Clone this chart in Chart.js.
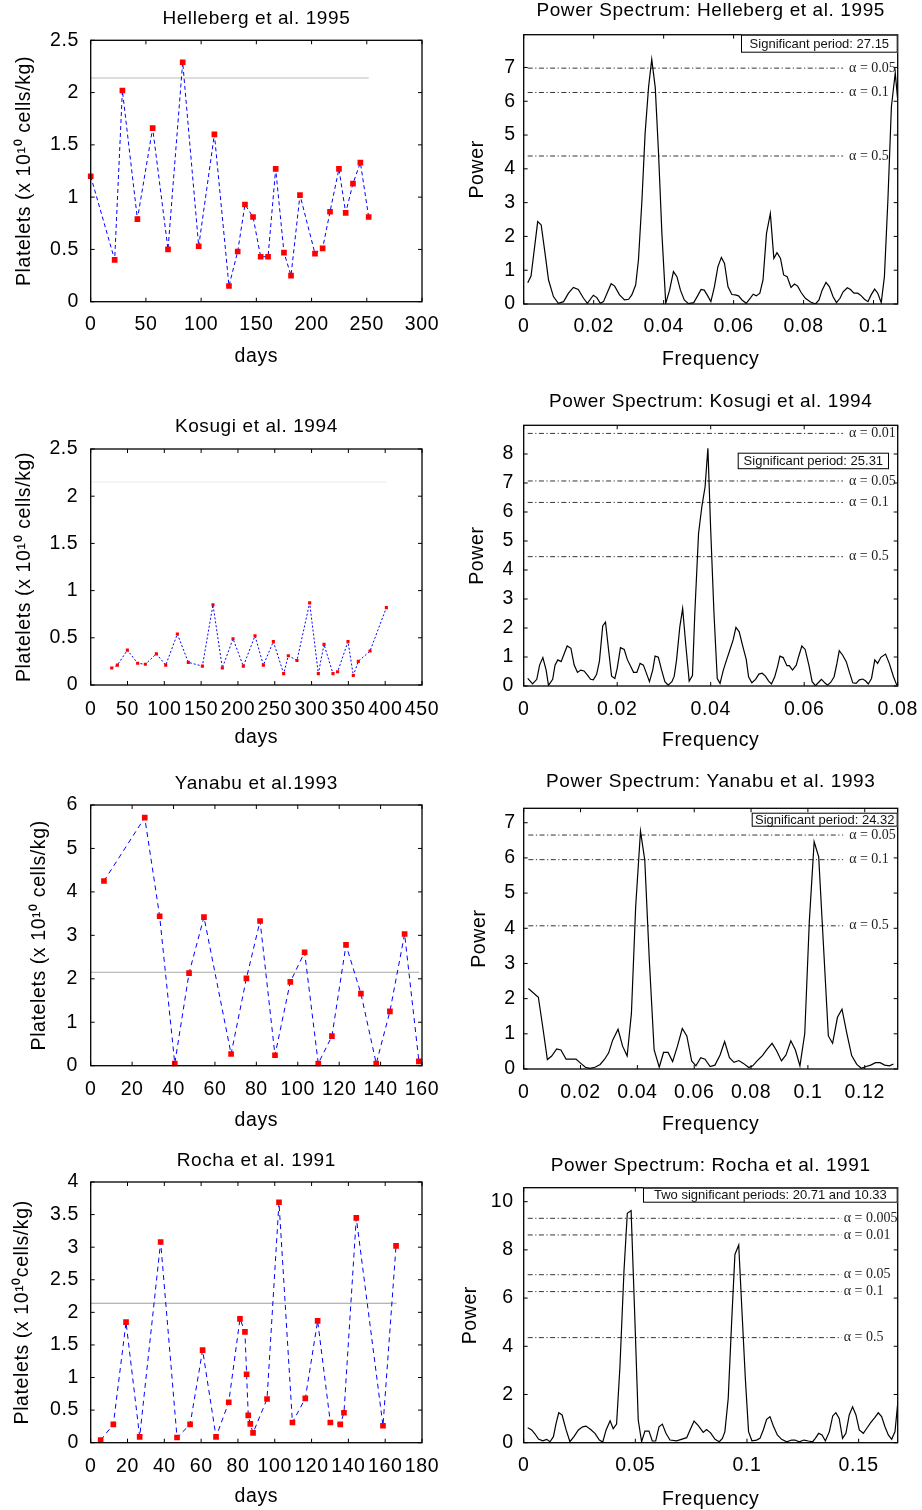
<!DOCTYPE html>
<html><head><meta charset="utf-8">
<script src="https://cdn.jsdelivr.net/npm/chart.js@4.4.1/dist/chart.umd.min.js"></script>
<style>
html,body{margin:0;padding:0;background:#fff;width:922px;height:1510px;overflow:hidden}
canvas{position:absolute}
</style></head>
<body>
<script>
// ---------------- DATA ----------------
// Helleberg et al. 1995
const helleDays = [0,21.7,28.7,42.3,56.1,70,83.3,97.8,112,125.2,133.1,139.7,147,153.9,160.6,167.5,175,181.4,189.5,203.1,210,216.7,224.8,230.9,237.5,244.2,251.7];
const helleVals = [1.20,0.40,2.02,0.79,1.66,0.50,2.29,0.53,1.60,0.15,0.48,0.93,0.81,0.43,0.43,1.27,0.47,0.25,1.02,0.46,0.51,0.86,1.27,0.85,1.13,1.33,0.81];
const helleRefDays = [0,251.7];
const helleRefVals = [2.14,2.14];
const helleFreq = [0.00115,0.0021,0.004,0.005,0.0061,0.0071,0.0085,0.0099,0.0114,0.0128,0.0142,0.0156,0.0171,0.0182,0.0199,0.0209,0.0219,0.0228,0.024,0.025,0.026,0.0274,0.0288,0.03,0.0309,0.032,0.0328,0.0338,0.0347,0.0357,0.0366,0.0376,0.0385,0.0395,0.0406,0.0417,0.0428,0.0438,0.0448,0.0459,0.0471,0.0486,0.0497,0.0507,0.0516,0.0526,0.0535,0.0545,0.0555,0.0565,0.0574,0.0584,0.0595,0.0605,0.0614,0.0624,0.0636,0.0645,0.0656,0.0665,0.0675,0.0684,0.0694,0.0705,0.0715,0.0724,0.0734,0.0743,0.0753,0.0764,0.0774,0.0783,0.0793,0.0805,0.082,0.0834,0.0844,0.0853,0.0864,0.0874,0.0884,0.0894,0.0904,0.0913,0.0925,0.0934,0.0944,0.0955,0.0965,0.0974,0.0984,0.0993,0.1003,0.1012,0.1022,0.1031,0.1041,0.1051,0.1062,0.1069];
const hellePower = [0.63,0.83,2.44,2.34,1.5,0.71,0.22,0.02,0.07,0.32,0.49,0.43,0.17,0.02,0.26,0.19,0.02,0.07,0.36,0.60,0.53,0.27,0.12,0.14,0.27,0.56,1.30,3.08,5.05,6.43,7.24,6.41,4.56,2.09,0.02,0.41,0.96,0.81,0.41,0.12,0.01,0.04,0.24,0.43,0.41,0.24,0.07,0.51,1.10,1.38,1.20,0.51,0.28,0.27,0.24,0.12,0.02,0.14,0.29,0.24,0.32,0.71,2.09,2.68,1.35,1.52,1.35,0.86,0.81,0.49,0.59,0.53,0.34,0.17,0.06,0.0,0.12,0.41,0.64,0.51,0.22,0.04,0.17,0.36,0.48,0.43,0.32,0.32,0.24,0.14,0.07,0.27,0.44,0.32,0.04,0.81,3.08,5.84,6.84,6.04];
const helleAlphaLabels = ['0.05','0.1','0.5'];
const helleAlphaLevels = [6.98,6.26,4.38];

// Kosugi et al. 1994
const kosugiDays = [28.5,36.2,49.8,63.8,74.2,89.2,101.9,117.7,132.6,151.7,166.1,178.8,193.3,207.3,223.2,234.5,248.1,262.1,268.4,280.2,297.4,309.2,316.9,329.1,335.4,349.5,356.7,363.5,379.4,401.6];
const kosugiVals = [0.18,0.21,0.37,0.23,0.22,0.33,0.21,0.54,0.24,0.20,0.85,0.18,0.49,0.20,0.52,0.21,0.46,0.12,0.31,0.26,0.87,0.12,0.43,0.12,0.14,0.46,0.10,0.25,0.36,0.82];
const kosugiRefDays = [0,402];
const kosugiRefVals = [2.15,2.15];
const kosugiFreq = [0.00086,0.0019,0.0028,0.0034,0.0041,0.0048,0.0053,0.0062,0.0067,0.0073,0.008,0.0087,0.0093,0.0101,0.0108,0.0115,0.0122,0.0129,0.0136,0.0143,0.0149,0.0156,0.0162,0.0169,0.0175,0.0182,0.0188,0.0195,0.02,0.0207,0.0215,0.0222,0.0229,0.0235,0.0242,0.0249,0.0256,0.0262,0.0269,0.0276,0.0281,0.0288,0.0295,0.0302,0.0309,0.0317,0.0322,0.0327,0.0334,0.034,0.0347,0.0354,0.0361,0.0366,0.0374,0.0381,0.0388,0.0394,0.04,0.0407,0.0414,0.042,0.0427,0.0434,0.0441,0.0448,0.0454,0.0461,0.0468,0.0476,0.0481,0.0488,0.0496,0.0503,0.051,0.0517,0.0524,0.053,0.0537,0.0543,0.0548,0.0555,0.0563,0.0568,0.0575,0.0583,0.0588,0.0595,0.0602,0.061,0.0617,0.0624,0.0631,0.0637,0.0644,0.065,0.0657,0.0664,0.067,0.0675,0.0682,0.069,0.0697,0.0704,0.0711,0.0718,0.0725,0.0731,0.0737,0.0744,0.0751,0.0757,0.0764,0.0774,0.0782,0.0791,0.0798];
const kosugiPower = [0.26,0.07,0.23,0.72,0.98,0.55,0.02,0.23,0.72,0.90,0.84,1.13,1.38,1.30,0.72,0.47,0.55,0.52,0.38,0.23,0.21,0.40,0.86,2.07,2.20,1.18,0.34,0.26,0.61,1.32,1.26,0.90,0.67,0.47,0.47,0.78,0.72,0.46,0.15,0.55,1.03,0.99,0.55,0.15,0.03,0.15,0.34,0.90,2.05,2.67,1.36,0.17,0.36,2.51,5.26,6.18,6.87,8.20,5.38,2.51,0.26,0.09,0.55,0.90,1.24,1.59,2.02,1.87,1.41,0.92,0.32,0.11,0.23,0.41,0.44,0.34,0.17,0.07,0.32,0.67,1.03,0.98,0.70,0.70,0.55,0.72,1.01,1.38,1.26,0.72,0.15,0.01,0.13,0.23,0.11,0.03,0.13,0.32,0.78,1.22,1.07,0.84,0.46,0.11,0.09,0.21,0.24,0.18,0.07,0.26,0.90,0.78,0.99,1.10,0.78,0.32,0.03];
const kosugiAlphaLabels = ['0.01','0.05','0.1','0.5'];
const kosugiAlphaLevels = [8.71,7.07,6.33,4.46];

// Yanabu et al. 1993
const yanabuDays = [6.4,26.1,33.3,40.6,47.5,54.7,67.8,75.2,81.8,89.0,96.4,103.3,109.9,116.5,123.3,130.5,137.9,144.5,151.6,158.5];
const yanabuVals = [4.25,5.71,3.44,0.05,2.13,3.42,0.27,2.01,3.33,0.24,1.93,2.61,0.05,0.68,2.78,1.66,0.05,1.25,3.03,0.10];
const yanabuRefDays = [0,158.7];
const yanabuRefVals = [2.15,2.15];
const yanabuFreq = [0.00164,0.00516,0.00669,0.00833,0.00985,0.0116,0.0131,0.0149,0.0167,0.0184,0.0201,0.0217,0.0233,0.0251,0.0269,0.0284,0.0299,0.0313,0.0332,0.0348,0.0364,0.0379,0.0394,0.0411,0.0426,0.0442,0.0459,0.0477,0.0492,0.0508,0.0524,0.0541,0.0558,0.0574,0.0591,0.0606,0.0623,0.0638,0.0656,0.0673,0.0691,0.0707,0.0724,0.074,0.0757,0.0773,0.0792,0.0806,0.0822,0.084,0.0856,0.0874,0.089,0.0907,0.0923,0.094,0.0956,0.0972,0.0989,0.1005,0.1022,0.1038,0.1055,0.1072,0.1087,0.1104,0.112,0.1137,0.1154,0.1172,0.1188,0.1205,0.1221,0.1238,0.1254,0.127,0.1287,0.1301];
const yanabuPower = [2.29,2.04,1.2,0.27,0.37,0.57,0.54,0.28,0.28,0.28,0.16,0.05,0.02,0.05,0.13,0.27,0.46,0.82,1.13,0.65,0.37,1.58,4.61,6.76,5.94,3.10,0.54,0.05,0.47,0.47,0.21,0.65,1.15,0.94,0.23,0.09,0.32,0.28,0.07,0.11,0.40,0.78,0.32,0.19,0.24,0.16,0.04,0.09,0.24,0.38,0.56,0.73,0.52,0.23,0.40,0.80,0.54,0.09,1.01,4.19,6.46,6.03,3.48,0.94,0.73,1.47,1.70,1.01,0.38,0.13,0.02,0.07,0.11,0.18,0.18,0.11,0.09,0.14];
const yanabuAlphaLabels = ['0.05','0.1','0.5'];
const yanabuAlphaLevels = [6.65,5.95,4.07];

// Rocha et al. 1991
const rochaDays = [5.4,12.3,19.2,26.6,38.0,46.9,54.0,60.8,68.1,75.0,81.1,83.8,84.7,85.6,86.7,88.2,95.8,102.3,109.6,116.6,123.3,130.2,135.6,137.6,144.3,158.8,165.9];
const rochaVals = [0.04,0.28,1.85,0.09,3.08,0.08,0.28,1.42,0.09,0.62,1.90,1.70,1.05,0.42,0.29,0.15,0.67,3.69,0.31,0.68,1.87,0.31,0.28,0.46,3.45,0.26,3.02];
const rochaRefDays = [0,166.2];
const rochaRefVals = [2.14,2.14];
const rochaFreq = [0.0018,0.0036,0.0051,0.0066,0.0085,0.0103,0.0118,0.0133,0.0145,0.0157,0.0172,0.019,0.0207,0.0225,0.0245,0.0264,0.0279,0.03,0.0319,0.0339,0.0354,0.0369,0.0387,0.0401,0.0416,0.0431,0.0449,0.0464,0.0481,0.0496,0.0513,0.0528,0.0543,0.0561,0.0576,0.0591,0.0606,0.0621,0.0637,0.0655,0.0685,0.073,0.0745,0.0763,0.0782,0.0804,0.0819,0.0837,0.0857,0.0876,0.089,0.0901,0.0916,0.0931,0.0946,0.0963,0.0978,0.0993,0.1007,0.1022,0.1043,0.1058,0.1073,0.1088,0.1103,0.1118,0.1136,0.1155,0.1178,0.12,0.1215,0.1234,0.1255,0.1275,0.1294,0.1306,0.1321,0.1336,0.1351,0.1369,0.1384,0.1398,0.1413,0.1428,0.1443,0.1458,0.1473,0.1488,0.1503,0.1521,0.1536,0.1554,0.1573,0.1588,0.1603,0.1618,0.1633,0.1648,0.1663,0.1675];
const rochaPower = [0.62,0.53,0.36,0.15,0.08,0.14,0.04,0.25,0.80,1.24,1.15,0.53,0.04,0.25,0.53,0.66,0.69,0.55,0.39,0.11,0.03,0.53,0.91,0.58,0.77,3.15,7.10,9.52,9.63,5.64,0.94,0.04,0.48,0.48,0.07,0.07,0.66,0.77,0.39,0.11,0.08,0.21,0.53,0.90,0.71,0.43,0.55,0.41,0.14,0.04,0.18,0.46,1.84,4.95,7.81,8.20,5.37,2.60,0.46,0.08,0.11,0.18,0.53,0.97,1.08,0.69,0.32,0.14,0.04,0.11,0.11,0.04,0.11,0.07,0.04,0.18,0.39,0.32,0.07,0.46,1.11,1.24,1.01,0.18,0.39,1.15,1.49,1.15,0.53,0.39,0.59,0.83,1.05,1.24,1.08,0.66,0.32,0.14,0.46,1.63];
const rochaAlphaLabels = ['0.005','0.01','0.05','0.1','0.5'];
const rochaAlphaLevels = [9.31,8.62,6.97,6.27,4.36];

// Titles / labels
const seriesTitles = ['Helleberg et al. 1995','Kosugi et al. 1994','Yanabu et al.1993','Rocha et al. 1991'];
const spectrumTitles = ['Power Spectrum: Helleberg et al. 1995','Power Spectrum: Kosugi et al. 1994','Power Spectrum: Yanabu et al. 1993','Power Spectrum: Rocha et al. 1991'];
const boxTexts = ['Significant period: 27.15','Significant period: 25.31','Significant period: 24.32','Two significant periods: 20.71 and 10.33'];
const yLabel = 'Platelets (x 10\u00B9\u2070 cells/kg)';
const yLabelRocha = 'Platelets (x 10\u00B9\u2070cells/kg)';

// ---------------- RENDERING ----------------
const FONT = "'Liberation Sans', Arial, Helvetica, sans-serif";
Chart.defaults.font.family = FONT;
Chart.defaults.color = '#000';
const TICK = 19.5, TITLE = 19, AXT = 19.5;
const TH = TICK * 1.2 / 2, TTH = TITLE / 2, AXH = AXT / 2;

function pts(xs, ys){ const n = Math.min(xs.length, ys.length); const o = []; for (let i = 0; i < n; i++) o.push({x: xs[i], y: ys[i]}); return o; }
const fmt = v => String(+Number(v).toFixed(4));

const framePlugin = {
  id: 'frame',
  beforeDraw(chart){ try { chart.ctx.letterSpacing = '0.6px'; } catch(e){} },
  afterDraw(chart, args, opts){
    const {ctx, chartArea: a, scales} = chart;
    ctx.save();
    try { ctx.letterSpacing = '0px'; } catch(e){}
    ctx.strokeStyle = '#000';
    ctx.lineWidth = 1.3;
    ctx.strokeRect(a.left, a.top, a.right - a.left, a.bottom - a.top);
    const tl = 4;
    ctx.lineWidth = 1;
    ctx.beginPath();
    scales.x.ticks.forEach(t => { const px = scales.x.getPixelForValue(t.value);
      ctx.moveTo(px, a.bottom); ctx.lineTo(px, a.bottom - tl); ctx.moveTo(px, a.top); ctx.lineTo(px, a.top + tl); });
    scales.y.ticks.forEach(t => { const py = scales.y.getPixelForValue(t.value);
      ctx.moveTo(a.left, py); ctx.lineTo(a.left + tl, py); ctx.moveTo(a.right, py); ctx.lineTo(a.right - tl, py); });
    ctx.stroke();
    if (opts.alphaLabels) {
      ctx.font = '14px "Liberation Serif", "Times New Roman", serif';
      ctx.fillStyle = '#222';
      ctx.textBaseline = 'middle';
      ctx.textAlign = 'left';
      const px = scales.x.getPixelForValue(opts.alphaEnd) + opts.labelGap;
      opts.alphaLabels.forEach((lab, i) => {
        ctx.fillText('\u03B1 = ' + lab, px, scales.y.getPixelForValue(opts.alphaLevels[i]));
      });
    }
    if (opts.box) {
      const b = opts.box;
      ctx.fillStyle = '#fff';
      ctx.fillRect(b.x, b.y, b.w, b.h);
      ctx.strokeStyle = '#000'; ctx.lineWidth = 1;
      ctx.strokeRect(b.x + 0.5, b.y + 0.5, b.w - 1, b.h - 1);
      ctx.fillStyle = '#111';
      ctx.font = '13px ' + FONT;
      ctx.textAlign = 'center'; ctx.textBaseline = 'middle';
      ctx.fillText(b.text, b.x + b.w / 2, b.y + b.h / 2 + 0.5);
    }
    ctx.restore();
  }
};

function makePanel(g){
  const cv = document.createElement('canvas');
  cv.width = g.cw; cv.height = g.ch;
  cv.style.left = g.cx + 'px'; cv.style.top = g.cy + 'px';
  document.body.appendChild(cv);
  const yW = g.L - g.cx, xH = g.cy + g.ch - g.B, rp = g.cx + g.cw - g.R;
  const tTop = g.titleY - g.cy - TTH;
  const tBot = (g.T - g.cy) - TITLE - tTop;
  const frameOpts = Object.assign({}, g.frame || {});
  if (frameOpts.box) frameOpts.box = Object.assign({}, frameOpts.box, {x: frameOpts.box.x - g.cx, y: frameOpts.box.y - g.cy});
  new Chart(cv, {
    type: 'line',
    data: {datasets: g.datasets},
    options: {
      responsive: false, animation: false, events: [],
      layout: {padding: {left: 0, top: 0, right: rp, bottom: 0}},
      plugins: {
        legend: {display: false}, tooltip: {enabled: false},
        title: {display: true, text: g.title, fullSize: false, color: '#000',
          font: {size: TITLE, lineHeight: 1, weight: 'normal'}, padding: {top: tTop, bottom: tBot}},
        frame: frameOpts
      },
      scales: {
        x: {type: 'linear', min: 0, max: g.xmax,
          grid: {display: false, drawTicks: false}, border: {display: false},
          ticks: {stepSize: g.xstep, includeBounds: false, autoSkip: false, maxRotation: 0, padding: g.xlc - g.B - TH,
            font: {size: TICK, lineHeight: 1.2}, color: '#000', callback: fmt},
          title: {display: true, text: g.xtitle, color: '#000', font: {size: AXT, lineHeight: 1},
            padding: {top: 0, bottom: Math.max(0, g.cy + g.ch - g.xtc - AXH)}},
          afterFit(s){ s.height = xH; s.paddingLeft = 0; s.paddingRight = 0; }
        },
        y: {type: 'linear', min: 0, max: g.ymax,
          grid: {display: false, drawTicks: false}, border: {display: false},
          ticks: {stepSize: g.ystep, includeBounds: false, autoSkip: false, padding: g.L - g.ylr - 0.6,
            font: {size: TICK, lineHeight: 1.2}, color: '#000', callback: fmt},
          title: {display: true, text: g.ytitle, color: '#000', font: {size: AXT, lineHeight: 1},
            padding: {top: Math.max(0, g.ytc - g.cx - AXH), bottom: 0}},
          afterFit(s){ s.width = yW; s.paddingTop = 0; s.paddingBottom = 0; }
        }
      }
    },
    plugins: [framePlugin]
  });
}

function seriesSets(days, vals, refDays, refVals, refColor, radius, dash){
  return [
    {data: pts(refDays, refVals), borderColor: refColor, borderWidth: 1.1, pointRadius: 0, tension: 0, order: 2},
    {data: pts(days, vals), borderColor: '#0000ff', borderWidth: 1, borderDash: dash, tension: 0, clip: 8,
     pointStyle: 'rect', pointRadius: radius, pointBackgroundColor: '#ff0000', pointBorderColor: '#ff0000', pointBorderWidth: 0, order: 1}
  ];
}
function spectrumSets(freq, power, levels, alphaEnd){
  const sets = [{data: pts(freq, power), borderColor: '#000', borderWidth: 1.2, pointRadius: 0, tension: 0, order: 1}];
  levels.forEach(v => sets.push({data: pts([freq[0], alphaEnd], [v, v]), borderColor: '#000', borderWidth: 0.8,
    borderDash: [5, 2.5, 1.2, 2.5], pointRadius: 0, order: 2}));
  return sets;
}

// geometry: xlc = x tick label centre y, xtc = x title centre y, ylr = y tick label right edge, ytc = y title centre x
// Row 1
makePanel({cx:0, cy:0, cw:461, ch:380, L:90.7, T:40.3, R:422, B:301.7, titleY:19,
  title: seriesTitles[0], xtitle:'days', ytitle: yLabel, xmax:300, xstep:50, ymax:2.5, ystep:0.5,
  xlc:324.3, xtc:357, ylr:78.3, ytc:24.5,
  datasets: seriesSets(helleDays, helleVals, helleRefDays, helleRefVals, '#bcbcbc', 4, [4,3])});
makePanel({cx:461, cy:0, cw:461, ch:380, L:523.7, T:34.7, R:897.7, B:304, titleY:11,
  title: spectrumTitles[0], xtitle:'Frequency', ytitle:'Power', xmax:0.1069, xstep:0.02, ymax:7.97, ystep:1,
  xlc:326.7, xtc:359.3, ylr:515, ytc:477.5,
  datasets: spectrumSets(helleFreq, hellePower, helleAlphaLevels, 0.0913),
  frame: {alphaLabels: helleAlphaLabels, alphaLevels: helleAlphaLevels, alphaEnd: 0.0913, labelGap: 6,
    box: {x:741, y:34.7, w:156.7, h:18, text: boxTexts[0]}}});

// Row 2
makePanel({cx:0, cy:380, cw:461, ch:380, L:90.7, T:449, R:422, B:685, titleY:426.7,
  title: seriesTitles[1], xtitle:'days', ytitle: yLabel, xmax:450, xstep:50, ymax:2.5, ystep:0.5,
  xlc:709.2, xtc:737.6, ylr:77.7, ytc:24.5,
  datasets: seriesSets(kosugiDays, kosugiVals, kosugiRefDays, kosugiRefVals, '#ececec', 2.2, [2,2])});
makePanel({cx:461, cy:380, cw:461, ch:380, L:523.7, T:425.3, R:897.7, B:686, titleY:401.7,
  title: spectrumTitles[1], xtitle:'Frequency', ytitle:'Power', xmax:0.08, xstep:0.02, ymax:8.99, ystep:1,
  xlc:710, xtc:741, ylr:513.3, ytc:477.5,
  datasets: spectrumSets(kosugiFreq, kosugiPower, kosugiAlphaLevels, 0.0683),
  frame: {alphaLabels: kosugiAlphaLabels, alphaLevels: kosugiAlphaLevels, alphaEnd: 0.0683, labelGap: 6,
    box: {x:737.7, y:452.7, w:151.3, h:16.5, text: boxTexts[1]}}});

// Row 3
makePanel({cx:0, cy:760, cw:461, ch:380, L:90.7, T:805, R:422, B:1065.7, titleY:783.7,
  title: seriesTitles[2], xtitle:'days', ytitle: yLabel, xmax:160, xstep:20, ymax:6, ystep:1,
  xlc:1089.2, xtc:1120.3, ylr:77.3, ytc:39.2,
  datasets: seriesSets(yanabuDays, yanabuVals, yanabuRefDays, yanabuRefVals, '#a8a8a8', 4, [5,4])});
makePanel({cx:461, cy:760, cw:461, ch:380, L:523.7, T:808.3, R:897.7, B:1069, titleY:782.2,
  title: spectrumTitles[2], xtitle:'Frequency', ytitle:'Power', xmax:0.1316, xstep:0.02, ymax:7.41, ystep:1,
  xlc:1092.5, xtc:1124.3, ylr:515, ytc:479.2,
  datasets: spectrumSets(yanabuFreq, yanabuPower, yanabuAlphaLevels, 0.1124),
  frame: {alphaLabels: yanabuAlphaLabels, alphaLevels: yanabuAlphaLevels, alphaEnd: 0.1124, labelGap: 6,
    box: {x:751.7, y:812.7, w:146, h:14, text: boxTexts[2]}}});

// Row 4
makePanel({cx:0, cy:1140, cw:461, ch:370, L:90.7, T:1182, R:422, B:1442.7, titleY:1160.8,
  title: seriesTitles[3], xtitle:'days', ytitle: yLabelRocha, xmax:180, xstep:20, ymax:4, ystep:0.5,
  xlc:1466.3, xtc:1497, ylr:78.3, ytc:22.8,
  datasets: seriesSets(rochaDays, rochaVals, rochaRefDays, rochaRefVals, '#9c9c9c', 4, [5,4])});
makePanel({cx:461, cy:1140, cw:461, ch:370, L:523.7, T:1187.7, R:897.7, B:1442.7, titleY:1165.8,
  title: spectrumTitles[3], xtitle:'Frequency', ytitle:'Power', xmax:0.1675, xstep:0.05, ymax:10.58, ystep:2,
  xlc:1465.8, xtc:1499.3, ylr:513, ytc:470,
  datasets: spectrumSets(rochaFreq, rochaPower, rochaAlphaLevels, 0.1424),
  frame: {alphaLabels: rochaAlphaLabels, alphaLevels: rochaAlphaLevels, alphaEnd: 0.1424, labelGap: 2,
    box: {x:643, y:1187.7, w:254.7, h:15, text: boxTexts[3]}}});
</script>
</body></html>
